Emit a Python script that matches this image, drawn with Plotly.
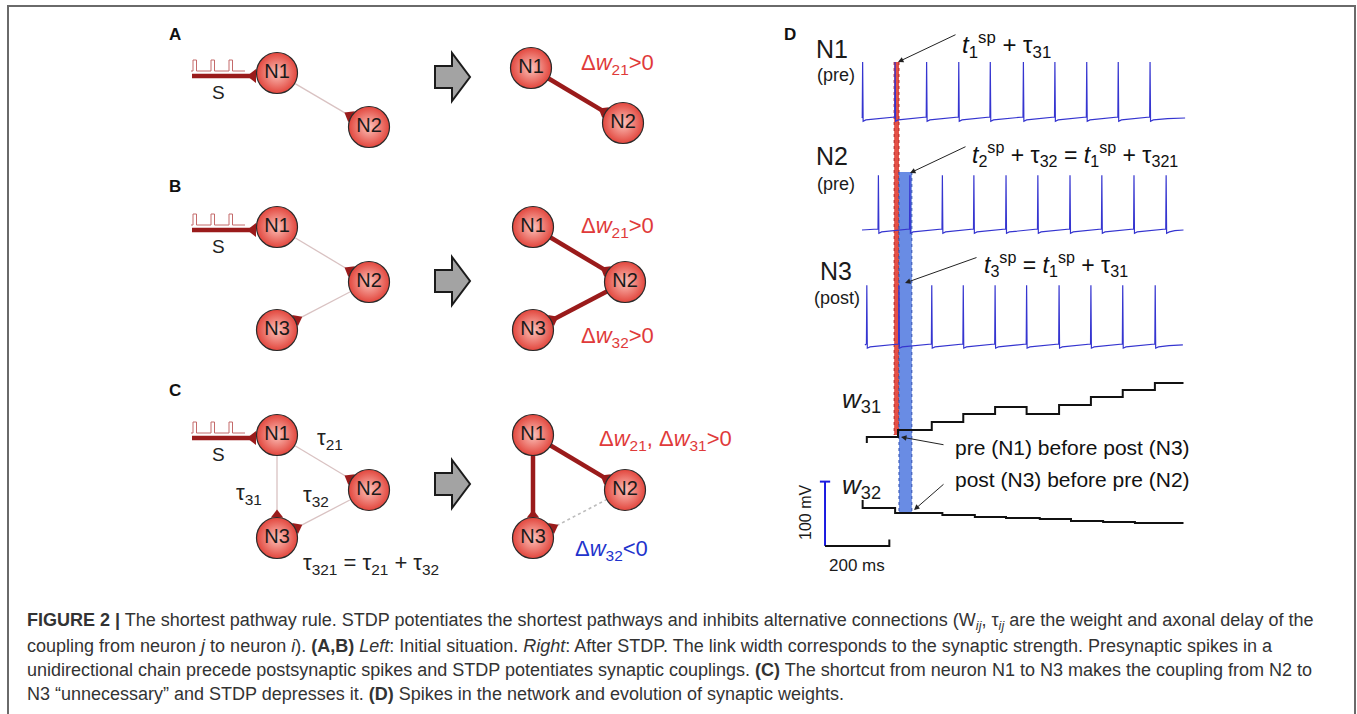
import math
import plotly.graph_objects as go

W, H = 1357, 714

# ---------------- Panel D data (ms, mV, weight units) ----------------
N1_spikes = [2, 103, 201, 301, 399, 502, 600, 699, 797, 896]
N2_spikes = [51, 149, 250, 348, 448, 547, 647, 746, 846, 946]
N3_spikes = [15, 115, 217, 315, 414, 512, 613, 712, 811, 912]
N1_range = [0, 1005]
N2_range = [0, 1000]
N3_range = [9, 998]
peak_mV = [22, 20, 28]          # spike peaks (N1, N2, N3)
rest_mV = -65

w31_t = [15, 112, 217, 315, 414, 512, 613, 712, 811, 911]
w31_v = [0.50, 0.57, 0.65, 0.73, 0.80, 0.73, 0.82, 0.90, 0.97, 1.04]
w31_init = 0.44
w32_t = [2, 103, 250, 351, 448, 553, 650, 750, 849, 946]
w32_v = [0.92, 0.87, 0.85, 0.83, 0.82, 0.81, 0.79, 0.78, 0.77, 0.77]
w32_init = 1.0
w_end = 1000

red_band_ms = [100, 115]
blue_band_ms = [115, 155]
scale_ms = 200
scale_mV = 100

# ---------------- Panels A-C network layout ----------------
names3 = ["N1", "N2", "N3"]
A_left_x, A_left_y = [277, 369], [73, 127]
A_right_x, A_right_y = [531, 623], [68, 123]
B_left_x, B_left_y = [277, 369, 277], [227, 282, 330]
B_right_x, B_right_y = [533, 625, 533], [227, 282, 330]
C_left_x, C_left_y = [277, 369, 277], [435, 490, 538]
C_right_x, C_right_y = [533, 625, 533], [435, 490, 538]

networks = [
    (A_left_x, A_left_y, [(0, 1, "weak")], True),
    (A_right_x, A_right_y, [(0, 1, "strong")], False),
    (B_left_x, B_left_y, [(0, 1, "weak"), (1, 2, "weak")], True),
    (B_right_x, B_right_y, [(0, 1, "strong"), (1, 2, "strong")], False),
    (C_left_x, C_left_y, [(0, 1, "weak"), (0, 2, "weak"), (1, 2, "weak")], True),
    (C_right_x, C_right_y, [(0, 1, "strong"), (0, 2, "strong"), (1, 2, "depressed")], False),
]
block_arrow_y = [77, 281, 484]

# pixel <-> unit conversions for panel D axes
PX0_T = 862.0
MS_PER_PX = 200 / 64.3
MV_PER_PX = 100 / 64.3
row_offset_mV = [-118.5, -292.7, -471.5]
w_offsets = [1.13, 0.0]

DARK_RED = "#9a1b1b"
BLUE = "#3535d0"
FONT = "Liberation Sans, Arial, sans-serif"

fig = go.Figure()
shapes = []
ann = []

# ---------- network diagrams ----------
R = 20
for xs, ys, edges, has_input in networks:
    for s, t, kind in edges:
        dx, dy = xs[t] - xs[s], ys[t] - ys[s]
        L = math.hypot(dx, dy)
        ux, uy = dx / L, dy / L
        x0, y0 = xs[s] + ux * R, ys[s] + uy * R
        x1, y1 = xs[t] - ux * (R + 4), ys[t] - uy * (R + 4)
        if kind == "weak":
            line = dict(color="#d9c2c2", width=1.3)
        elif kind == "strong":
            line = dict(color=DARK_RED, width=4.5)
        else:
            line = dict(color="#bdbdbd", width=1.6, dash="dot")
        fig.add_trace(go.Scatter(x=[x0, x1], y=[y0, y1], mode="lines", line=line,
                                 hoverinfo="skip", showlegend=False))
        ang = math.degrees(math.atan2(-ux, uy))
        tx, ty = xs[t] - ux * (R + 3), ys[t] - uy * (R + 3)
        fig.add_trace(go.Scatter(x=[tx], y=[ty], mode="markers",
                                 marker=dict(symbol="triangle-up", size=11, color=DARK_RED,
                                             angle=ang, line=dict(width=0)),
                                 hoverinfo="skip", showlegend=False))
    if has_input:
        x1n, y1n = xs[0], ys[0]
        fig.add_trace(go.Scatter(x=[x1n - 85, x1n - 24], y=[y1n + 3, y1n + 3], mode="lines",
                                 line=dict(color=DARK_RED, width=4.5),
                                 hoverinfo="skip", showlegend=False))
        fig.add_trace(go.Scatter(x=[x1n - 24], y=[y1n + 3], mode="markers",
                                 marker=dict(symbol="triangle-up", size=12, color=DARK_RED, angle=270),
                                 hoverinfo="skip", showlegend=False))
        px, py = [x1n - 86], [y1n - 2]
        for p0 in (-84, -66, -48):
            px += [x1n + p0, x1n + p0, x1n + p0 + 3.5, x1n + p0 + 3.5]
            py += [y1n - 2, y1n - 13, y1n - 13, y1n - 2]
        px.append(x1n - 32)
        py.append(y1n - 2)
        fig.add_trace(go.Scatter(x=px, y=py, mode="lines", line=dict(color="#c46a6a", width=1),
                                 hoverinfo="skip", showlegend=False))
        ann.append(dict(x=x1n - 59, y=y1n + 19, text="S", font=dict(size=19, color="#222")))
    fig.add_trace(go.Scatter(x=xs, y=ys, mode="markers+text", text=names3[:len(xs)],
                             textposition="middle center",
                             textfont=dict(size=20, color="#1a1a1a", family=FONT),
                             marker=dict(size=41, color="#e2463d",
                                         gradient=dict(type="radial", color="#fcc2ba"),
                                         line=dict(color="#2a2a2a", width=1.2)),
                             hoverinfo="skip", showlegend=False))

# block arrows
for cy in block_arrow_y:
    path = (f"M 435 {cy-11} L 452 {cy-11} L 452 {cy-24} L 470 {cy} L 452 {cy+24} "
            f"L 452 {cy+11} L 435 {cy+11} Z")
    shapes.append(dict(type="path", path=path, xref="x", yref="y",
                       fillcolor="#a3a3a3", line=dict(color="#1b1b1b", width=2)))

# diagram labels
RED_T = "#e03a3a"
diag_labels = [
    ("A", 175, 34, 17, "#111", True), ("B", 175, 186, 17, "#111", True),
    ("C", 175, 390, 17, "#111", True), ("D", 790, 34, 17, "#111", True),
]
for t, x, y, s, c, b in diag_labels:
    ann.append(dict(x=x, y=y, text=f"<b>{t}</b>", font=dict(size=s, color=c)))

eq_labels = [
    ("Δ<i>w</i><sub>21</sub>>0", 617, 64, RED_T),
    ("Δ<i>w</i><sub>21</sub>>0", 617, 227, RED_T),
    ("Δ<i>w</i><sub>32</sub>>0", 617, 337, RED_T),
    ("Δ<i>w</i><sub>21</sub>, Δ<i>w</i><sub>31</sub>>0", 665, 440, RED_T),
    ("Δ<i>w</i><sub>32</sub><0", 611, 550, "#2233cc"),
]
for t, x, y, c in eq_labels:
    ann.append(dict(x=x, y=y, text=t, font=dict(size=22, color=c)))

tau_labels = [
    ("τ<sub>21</sub>", 330, 439), ("τ<sub>31</sub>", 249, 494), ("τ<sub>32</sub>", 316, 496),
    ("τ<sub>321</sub> = τ<sub>21</sub> + τ<sub>32</sub>", 371, 564),
]
for t, x, y in tau_labels:
    ann.append(dict(x=x, y=y, text=t, font=dict(size=22, color="#222")))

# ---------- panel D ----------
def voltage(spikes, rng, peak, off):
    xs, ys = [rng[0]], [rest_mV + off]
    for i, s in enumerate(spikes):
        if s > rng[0] + 1:
            xs += [s - 1.2]
            ys += [rest_mV + 1.5 + off]
        xs += [s, s + 1.5, s + 10]
        ys += [peak + off, rest_mV - 5 + off, rest_mV - 3 + off]
        nxt = spikes[i + 1] if i + 1 < len(spikes) else rng[1]
        xs += [(s + nxt) / 2]
        ys += [rest_mV - 1 + off]
    xs.append(rng[1])
    ys.append(rest_mV + off)
    return xs, ys

# bands (drawn under traces)
band_specs = [
    (red_band_ms, 62, 435, "rgba(228,80,70,1)", "#b02020"),
    (blue_band_ms, 172, 513, "rgba(105,140,228,1)", "#3050b0"),
]
for (t0, t1), ytop, ybot, fill, edge in band_specs:
    shapes.append(dict(type="rect", xref="x2", yref="y", x0=t0, x1=t1, y0=ytop, y1=ybot,
                       fillcolor=fill, line=dict(width=0), layer="below"))
    for tt in (t0, t1):
        shapes.append(dict(type="line", xref="x2", yref="y", x0=tt, x1=tt, y0=ytop, y1=ybot,
                           line=dict(color=edge, width=1, dash="dot"), layer="below"))

for spikes, rng, pk, off in [(N1_spikes, N1_range, peak_mV[0], row_offset_mV[0]),
                             (N2_spikes, N2_range, peak_mV[1], row_offset_mV[1]),
                             (N3_spikes, N3_range, peak_mV[2], row_offset_mV[2])]:
    vx, vy = voltage(spikes, rng, pk, off)
    fig.add_trace(go.Scatter(x=vx, y=vy, xaxis="x2", yaxis="y2", mode="lines",
                             line=dict(color=BLUE, width=1.2), hoverinfo="skip", showlegend=False))

for wt, wv, w0, off in [(w31_t, w31_v, w31_init, w_offsets[0]), (w32_t, w32_v, w32_init, w_offsets[1])]:
    xs = [wt[0]] + wt + [w_end]
    ys = [w0 + off] + [v + off for v in wv] + [wv[-1] + off]
    fig.add_trace(go.Scatter(x=xs, y=ys, xaxis="x2", yaxis="y3", mode="lines", line_shape="hv",
                             line=dict(color="#111", width=2), hoverinfo="skip", showlegend=False))

# scale bars
sb_t0 = -115
sb_v0 = -849
fig.add_trace(go.Scatter(x=[sb_t0, sb_t0], y=[sb_v0, sb_v0 + scale_mV], xaxis="x2", yaxis="y2",
                         mode="lines", line=dict(color="#1a1ae0", width=2), hoverinfo="skip", showlegend=False))
fig.add_trace(go.Scatter(x=[sb_t0 - 16, sb_t0 + 16], y=[sb_v0 + scale_mV] * 2, xaxis="x2", yaxis="y2",
                         mode="lines", line=dict(color="#1a1ae0", width=2), hoverinfo="skip", showlegend=False))
fig.add_trace(go.Scatter(x=[sb_t0, sb_t0 + scale_ms, sb_t0 + scale_ms], y=[sb_v0, sb_v0, sb_v0 + 10],
                         xaxis="x2", yaxis="y2", mode="lines", line=dict(color="#111", width=2),
                         hoverinfo="skip", showlegend=False))

d_labels = [
    ("N1", 832, 49, 25), ("(pre)", 836, 75, 18),
    ("N2", 832, 156, 25), ("(pre)", 836, 184, 18),
    ("N3", 836, 271, 25), ("(post)", 837, 298, 18),
    ("<i>w</i><sub>31</sub>", 861, 400, 26), ("<i>w</i><sub>32</sub>", 861, 486, 26),
    ("200 ms", 857, 565, 17),
]
for t, x, y, s in d_labels:
    ann.append(dict(x=x, y=y, text=t, font=dict(size=s, color="#1a1a1a")))
ann.append(dict(x=805, y=513, text="100 mV", textangle=-90, font=dict(size=16, color="#1a1a1a")))

formula = [
    ("<i>t</i><sub>1</sub><sup>sp</sup> + τ<sub>31</sub>", 960, 45, (957, 34), (898, 62), 24),
    ("<i>t</i><sub>2</sub><sup>sp</sup> + τ<sub>32</sub> = <i>t</i><sub>1</sub><sup>sp</sup> + τ<sub>321</sub>",
     970, 154, (967, 146), (910, 173), 23),
    ("<i>t</i><sub>3</sub><sup>sp</sup> = <i>t</i><sub>1</sub><sup>sp</sup> + τ<sub>31</sub>", 982, 264,
     (978, 257), (905, 283), 23),
    ("pre (N1) before post (N3)", 953, 447, (945, 445), (901, 437), 21),
    ("post (N3) before pre (N2)", 953, 479, (945, 483), (914, 510), 21),
]
for t, x, y, (ax, ay), (hx, hy), sz in formula:
    ann.append(dict(x=x, y=y, text=t, xanchor="left", font=dict(size=sz, color="#111")))
    ann.append(dict(x=hx, y=hy, ax=ax, ay=ay, xref="x", yref="y", axref="x", ayref="y", text="",
                    showarrow=True, arrowhead=2, arrowsize=1.1, arrowwidth=1, arrowcolor="#222"))

# ---------- caption ----------
caption = [
    "<b>FIGURE 2 |</b> The shortest pathway rule. STDP potentiates the shortest pathways and inhibits "
    "alternative connections (W<sub><i>ij</i></sub>, τ<sub><i>ij</i></sub> are the weight and axonal delay of the",
    "coupling from neuron <i>j</i> to neuron <i>i</i>). <b>(A,B)</b> <i>Left</i>: Initial situation. "
    "<i>Right</i>: After STDP. The link width corresponds to the synaptic strength. Presynaptic spikes in a",
    "unidirectional chain precede postsynaptic spikes and STDP potentiates synaptic couplings. <b>(C)</b> "
    "The shortcut from neuron N1 to N3 makes the coupling from N2 to",
    "N3 “unnecessary” and STDP depresses it. <b>(D)</b> Spikes in the network and evolution of synaptic weights.",
]
cap_y = [621, 646, 670, 694]
for t, y in zip(caption, cap_y):
    ann.append(dict(x=25, y=y, text=t, xanchor="left", font=dict(size=18, color="#333")))

shapes.append(dict(type="rect", xref="x", yref="y", x0=8, x1=1355, y0=6, y1=730,
                   line=dict(color="#6a6a6a", width=2), fillcolor="rgba(0,0,0,0)"))

for a in ann:
    a.setdefault("xref", "x")
    a.setdefault("yref", "y")
    a.setdefault("showarrow", False)

fig.update_layout(
    width=W, height=H, margin=dict(l=0, r=0, t=0, b=0),
    paper_bgcolor="white", plot_bgcolor="white",
    font=dict(family=FONT, color="#222"),
    xaxis=dict(range=[0, W], visible=False, fixedrange=True),
    yaxis=dict(range=[H, 0], visible=False, fixedrange=True),
    xaxis2=dict(range=[-PX0_T * MS_PER_PX, (W - PX0_T) * MS_PER_PX], overlaying="x", visible=False),
    yaxis2=dict(range=[-H * MV_PER_PX, 0], overlaying="y", visible=False),
    yaxis3=dict(range=[-1.14, 6.0], overlaying="y", visible=False),
    shapes=shapes, annotations=ann, showlegend=False,
)

fig.write_html("out.html", config={"displayModeBar": False},
               post_script="document.body.style.margin='0';document.body.style.overflow='hidden';")
